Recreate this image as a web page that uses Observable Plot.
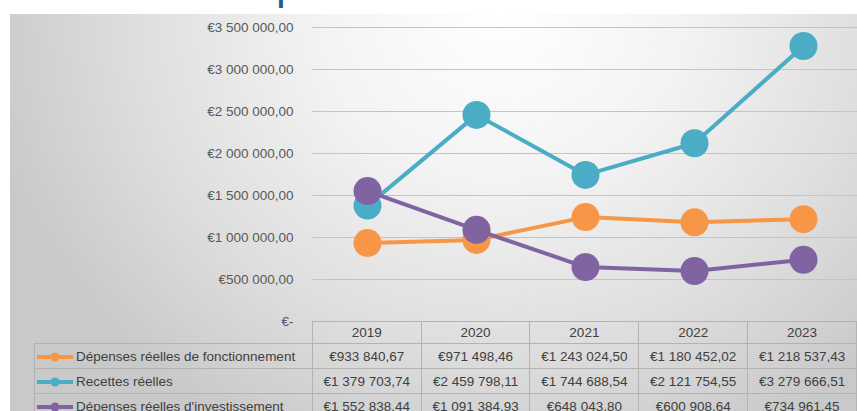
<!DOCTYPE html>
<html>
<head>
<meta charset="utf-8">
<script src="https://cdn.jsdelivr.net/npm/d3@7"></script>
<script src="https://cdn.jsdelivr.net/npm/@observablehq/plot@0.6"></script>
<style>
  html, body { margin: 0; padding: 0; background: #fff; }
  #wrap { position: relative; width: 857px; height: 411px; overflow: hidden; background: #fff; font-family: "Liberation Sans", Arial, sans-serif; }
  #bg { position: absolute; left: 10px; top: 14px; width: 847px; height: 397px;
        background: radial-gradient(ellipse 62% 120% at 58% 0%, #ffffff 0%, #f3f3f3 35%, #dedede 70%, #c9c9c9 100%); }
  #title { position: absolute; left: 0; top: 0; width: 857px; height: 14px; overflow: hidden; }
  #chart { position: absolute; left: 10px; top: 14px; }
  #table { position: absolute; left: 34px; top: 321px; border-collapse: collapse; font-size: 13.5px; color: #404040; }
  #table td { border: 1px solid #b3b3b3; padding: 0; text-align: center; white-space: nowrap; }
  #table tr.head td { height: 21px; }
  #table tr.row td { height: 24px; }
  #table td.lab { text-align: left; width: 277px; }
  #table td.val { width: 108px; }
  #table td.empty { border: none; border-right: 1px solid #b3b3b3; }
  .sw { vertical-align: middle; margin: 0 3px 0 2px; }
</style>
</head>
<body>
<div id="wrap">
  <div id="bg"></div>
  <div id="title"></div>
  <div id="chart"></div>
</div>
<script>
const years = ["2019", "2020", "2021", "2022", "2023"];
const seriesNames = ["Dépenses réelles de fonctionnement", "Recettes réelles", "Dépenses réelles d'investissement"];
const fonctionnement = [933840.67, 971498.46, 1243024.50, 1180452.02, 1218537.43];
const recettes = [1379703.74, 2459798.11, 1744688.54, 2121754.55, 3279666.51];
const investissement = [1552838.44, 1091384.93, 648043.80, 600908.64, 734961.45];
const seriesColors = ["#F79646", "#4BACC6", "#8064A2"];
const yTicks = [0, 500000, 1000000, 1500000, 2000000, 2500000, 3000000, 3500000];
const titleText = "p";

const seriesValues = [fonctionnement, recettes, investissement];
const locale = d3.formatLocale({decimal: ",", thousands: " ", grouping: [3], currency: ["€", ""]});
const fmt = locale.format("$,.2f");
const euro = d => d === 0 ? "€-" : fmt(d);

const data = [];
seriesNames.forEach((s, i) => years.forEach((y, j) => data.push({series: s, year: y, value: seriesValues[i][j]})));

// title fragment (clipped at top, as in the reference)
const tsvg = d3.select("#title").append("svg").attr("width", 857).attr("height", 14);
tsvg.append("text").attr("x", 276).attr("y", -1).attr("font-family", "Liberation Sans").attr("font-size", 44)
  .attr("fill", "#1F5F8F").text(titleText);

const marks = [
  Plot.gridY(yTicks, {stroke: "#c4c4c4", strokeOpacity: 1, strokeWidth: 1}),
  Plot.axisY(yTicks, {tickFormat: euro, tickSize: 0, tickPadding: 19, fontSize: 13.5, fill: "#595959", label: null})
];
seriesNames.forEach((s, i) => {
  const d = data.filter(r => r.series === s);
  marks.push(Plot.line(d, {x: "year", y: "value", stroke: seriesColors[i], strokeWidth: 4}));
  marks.push(Plot.dot(d, {x: "year", y: "value", r: 14, fill: seriesColors[i], stroke: "none"}));
});

const chart = Plot.plot({
  width: 847, height: 397,
  marginLeft: 302, marginRight: 0, marginTop: 13, marginBottom: 90,
  style: {background: "transparent", fontFamily: "Liberation Sans, Arial, sans-serif", fontSize: "13.5px", overflow: "visible"},
  x: {type: "point", domain: years, padding: 0.5, axis: null},
  y: {domain: [0, 3500000], axis: null},
  marks
});
document.getElementById("chart").appendChild(chart);

// data table (legend + values)
const table = document.createElement("table");
table.id = "table";
const head = table.insertRow();
head.className = "head";
const e = head.insertCell(); e.className = "empty lab";
years.forEach(y => { const c = head.insertCell(); c.className = "val"; c.textContent = y; });
seriesNames.forEach((s, i) => {
  const r = table.insertRow(); r.className = "row";
  const lab = r.insertCell(); lab.className = "lab";
  lab.innerHTML = `<svg class="sw" width="36" height="10"><line x1="0" y1="5" x2="36" y2="5" stroke="${seriesColors[i]}" stroke-width="4"/><circle cx="18" cy="5" r="4.5" fill="${seriesColors[i]}"/></svg>`;
  lab.appendChild(document.createTextNode(s));
  seriesValues[i].forEach(v => { const c = r.insertCell(); c.className = "val"; c.textContent = euro(v); });
});
document.getElementById("wrap").appendChild(table);
</script>
</body>
</html>
